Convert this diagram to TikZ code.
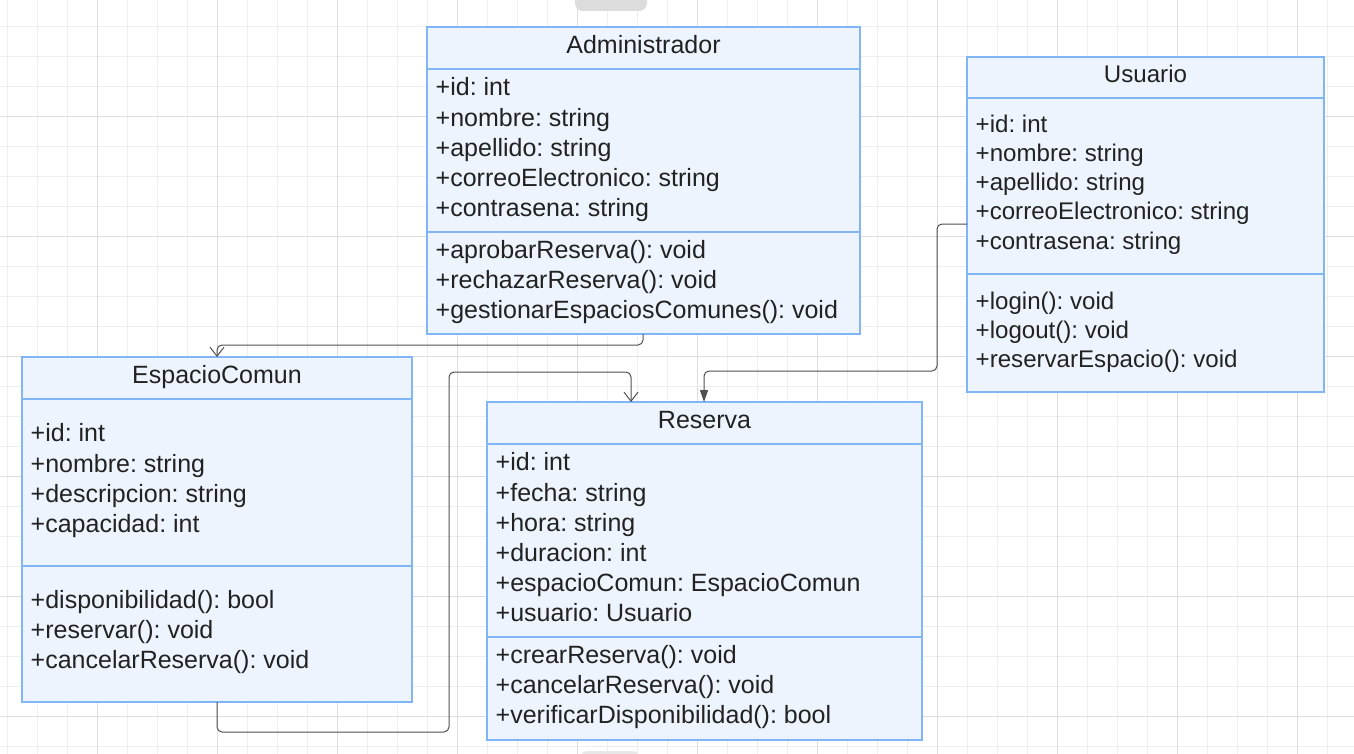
\documentclass[tikz,border=0pt]{standalone}
\usepackage{fontspec}
\setmainfont{Liberation Sans}
\usetikzlibrary{arrows.meta}
\frenchspacing
\definecolor{boxfill}{HTML}{EDF4FE}
\definecolor{boxline}{HTML}{80B6F6}
\definecolor{ink}{HTML}{222222}
\definecolor{wire}{HTML}{505050}
\definecolor{gridminor}{HTML}{EEEEEE}
\definecolor{gridmajor}{HTML}{DDDDDD}
\definecolor{tabgray}{HTML}{DCDCDC}
\tikzset{
  classbox/.style={draw=boxline, fill=boxfill, line width=1.5pt, inner sep=0pt, outer sep=0pt, anchor=north west},
  classtitle/.style={font=\fontsize{25}{30}\selectfont, text=ink, anchor=base, inner sep=0pt},
  member/.style={font=\fontsize{25}{30}\selectfont, text=ink, anchor=base west, inner sep=0pt},
  smallfont/.style={font=\fontsize{24.1}{29}\selectfont},
  divider/.style={draw=boxline, line width=1.5pt},
  conn/.style={draw=wire, line width=1pt, rounded corners=5pt},
  openhead/.style={-{Straight Barb[length=9pt,width=14pt]}},
  filledhead/.style={-{Triangle[length=12pt,width=8pt]}},
  gminor/.style={draw=gridminor, line width=1pt},
  gmajor/.style={draw=gridmajor, line width=1pt}
}
\begin{document}
\frenchspacing
\begin{tikzpicture}[x=1pt,y=-1pt]
\useasboundingbox (0,0) rectangle (1354,754);
\fill[white] (0,0) rectangle (1354,754);
\begin{scope}
\clip (0,0) rectangle (1354,754);
% grid
\foreach \i in {0,...,44} \draw[gminor] ({7.5+30*\i},0) -- ++(0,754);
\foreach \i in {0,...,24} \draw[gminor] (0,{26.5+30*\i}) -- ++(1354,0);
\foreach \i in {0,...,10} \draw[gmajor] ({97.5+120*\i},0) -- ++(0,754);
\foreach \i in {0,...,5} \draw[gmajor] (0,{116.5+120*\i}) -- ++(1354,0);
% UI tabs
\fill[tabgray, rounded corners=8pt] (575,-20) rectangle (647,11);
\fill[tabgray!70, rounded corners=8pt] (580,751) rectangle (640,775);
\end{scope}

% Administrador
\node[classbox, minimum width=433pt, minimum height=307pt] (admin) at (427,27) {};
\draw[divider] (admin.west |- 0,69) -- (admin.east |- 0,69);
\draw[divider] (admin.west |- 0,232) -- (admin.east |- 0,232);
\node[classtitle] (adminT) at (admin.north |- 0,53.3) {Administrador};
\node[member] (adminA1) at (435.5,96) {+id: int};
\node[member] (adminA2) at (435.5,126.2) {+nombre: string};
\node[member] (adminA3) at (435.5,156.4) {+apellido: string};
\node[member] (adminA4) at (435.5,186.6) {+correoElectronico: string};
\node[member] (adminA5) at (435.5,216.8) {+contrasena: string};
\node[member] (adminM1) at (435.5,258) {+aprobarReserva(): void};
\node[member] (adminM2) at (435.5,288) {+rechazarReserva(): void};
\node[member] (adminM3) at (435.5,318) {+gestionarEspaciosComunes(): void};

% Usuario
\node[classbox, minimum width=357pt, minimum height=335pt] (usuario) at (967,57) {};
\draw[divider] (usuario.west |- 0,98) -- (usuario.east |- 0,98);
\draw[divider] (usuario.west |- 0,274) -- (usuario.east |- 0,274);
\node[classtitle, smallfont] (usuarioT) at (usuario.north |- 0,82.3) {Usuario};
\node[member, smallfont] (usuarioA1) at (975.5,132.3) {+id: int};
\node[member, smallfont] (usuarioA2) at (975.5,161.5) {+nombre: string};
\node[member, smallfont] (usuarioA3) at (975.5,190.7) {+apellido: string};
\node[member, smallfont] (usuarioA4) at (975.5,219.9) {+correoElectronico: string};
\node[member, smallfont] (usuarioA5) at (975.5,249.1) {+contrasena: string};
\node[member, smallfont] (usuarioM1) at (975.5,309) {+login(): void};
\node[member, smallfont] (usuarioM2) at (975.5,338) {+logout(): void};
\node[member, smallfont] (usuarioM3) at (975.5,367) {+reservarEspacio(): void};

% EspacioComun
\node[classbox, minimum width=390pt, minimum height=345pt] (espacio) at (22,357) {};
\draw[divider] (espacio.west |- 0,399) -- (espacio.east |- 0,399);
\draw[divider] (espacio.west |- 0,566) -- (espacio.east |- 0,566);
\node[classtitle] (espacioT) at (espacio.north |- 0,383.3) {EspacioComun};
\node[member] (espacioA1) at (30.5,441.9) {+id: int};
\node[member] (espacioA2) at (30.5,472.2) {+nombre: string};
\node[member] (espacioA3) at (30.5,502.5) {+descripcion: string};
\node[member] (espacioA4) at (30.5,532.8) {+capacidad: int};
\node[member] (espacioM1) at (30.5,608.3) {+disponibilidad(): bool};
\node[member] (espacioM2) at (30.5,638.3) {+reservar(): void};
\node[member] (espacioM3) at (30.5,668.3) {+cancelarReserva(): void};

% Reserva
\node[classbox, minimum width=435pt, minimum height=338pt] (reserva) at (487,402) {};
\draw[divider] (reserva.west |- 0,444) -- (reserva.east |- 0,444);
\draw[divider] (reserva.west |- 0,637) -- (reserva.east |- 0,637);
\node[classtitle] (reservaT) at (reserva.north |- 0,428.3) {Reserva};
\node[member] (reservaA1) at (495.5,470.8) {+id: int};
\node[member] (reservaA2) at (495.5,501) {+fecha: string};
\node[member] (reservaA3) at (495.5,531.2) {+hora: string};
\node[member] (reservaA4) at (495.5,561.4) {+duracion: int};
\node[member] (reservaA5) at (495.5,591.6) {+espacioComun: EspacioComun};
\node[member] (reservaA6) at (495.5,621.8) {+usuario: Usuario};
\node[member] (reservaM1) at (495.5,663.3) {+crearReserva(): void};
\node[member] (reservaM2) at (495.5,693.3) {+cancelarReserva(): void};
\node[member] (reservaM3) at (495.5,723.3) {+verificarDisponibilidad(): bool};

% connectors
\draw[conn, openhead] (admin.south -| 643,0) -- (643,345) -- (217,345) -- (espacio.north -| 217,0);
\draw[conn, filledhead] (usuario.west |- 0,224) -- (937,224) -- (937,371) -- (704,371) -- (reserva.north -| 704,0);
\draw[conn, openhead] (espacio.south -| 217,0) -- (217,732) -- (449,732) -- (449,372) -- (631,372) -- (reserva.north -| 631,0);
\end{tikzpicture}
\end{document}
